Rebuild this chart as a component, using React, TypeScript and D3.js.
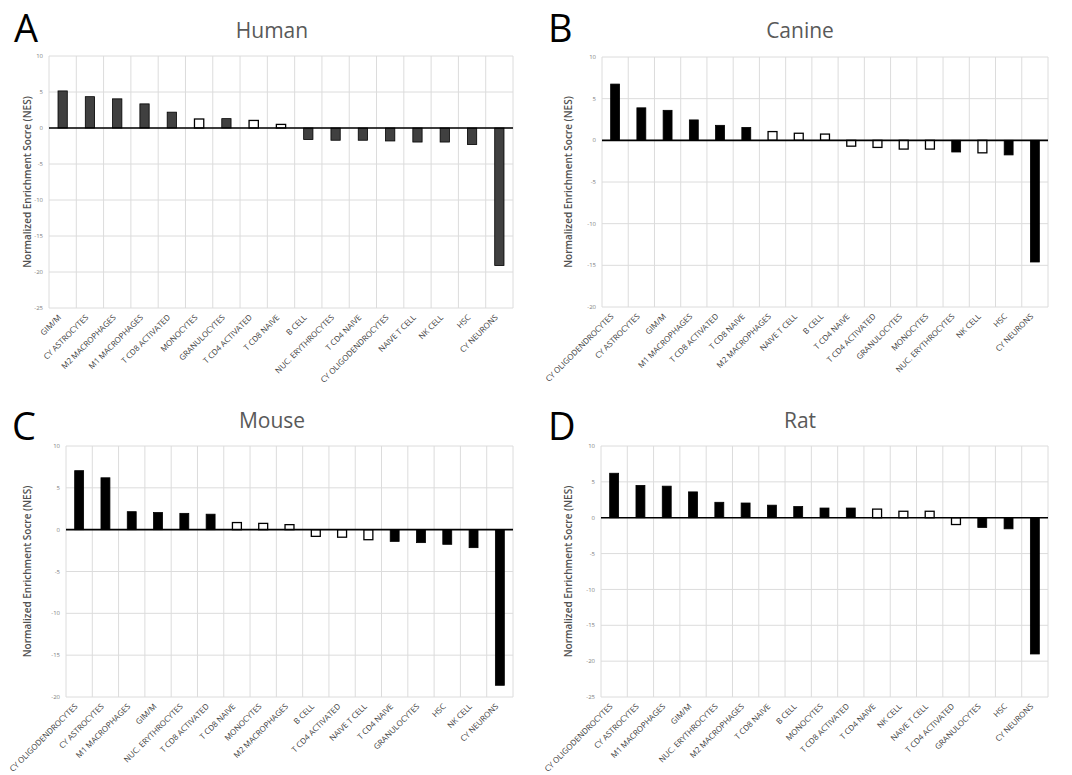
import { useEffect, useRef } from 'react'
import * as d3 from 'd3'

// Human
const humanCats = ['GIM/M', 'CY ASTROCYTES', 'M2 MACROPHAGES', 'M1 MACROPHAGES', 'T CD8 ACTIVATED', 'MONOCYTES', 'GRANULOCYTES', 'T CD4 ACTIVATED', 'T CD8 NAIVE', 'B CELL', 'NUC. ERYTHROCYTES', 'T CD4 NAIVE', 'CY OLIGODENDROCYTES', 'NAIVE T CELL', 'NK CELL', 'HSC', 'CY NEURONS']
const humanVals = [5.15, 4.35, 4.05, 3.35, 2.2, 1.25, 1.3, 1.05, 0.5, -1.6, -1.7, -1.7, -1.8, -1.95, -1.95, -2.3, -19.1]
const humanOpen = [0, 0, 0, 0, 0, 1, 0, 1, 1, 0, 0, 0, 0, 0, 0, 0, 0]

// Canine
const canineCats = ['CY OLIGODENDROCYTES', 'CY ASTROCYTES', 'GIM/M', 'M1 MACROPHAGES', 'T CD8 ACTIVATED', 'T CD8 NAIVE', 'M2 MACROPHAGES', 'NAIVE T CELL', 'B CELL', 'T CD4 NAIVE', 'T CD4 ACTIVATED', 'GRANULOCYTES', 'MONOCYTES', 'NUC. ERYTHROCYTES', 'NK CELL', 'HSC', 'CY NEURONS']
const canineVals = [6.75, 3.9, 3.6, 2.45, 1.8, 1.55, 1.05, 0.85, 0.75, -0.7, -0.85, -1.05, -1.05, -1.4, -1.5, -1.75, -14.6]
const canineOpen = [0, 0, 0, 0, 0, 0, 1, 1, 1, 1, 1, 1, 1, 0, 1, 0, 0]

// Mouse
const mouseCats = ['CY OLIGODENDROCYTES', 'CY ASTROCYTES', 'M1 MACROPHAGES', 'GIM/M', 'NUC. ERYTHROCYTES', 'T CD8 ACTIVATED', 'T CD8 NAIVE', 'MONOCYTES', 'M2 MACROPHAGES', 'B CELL', 'T CD4 ACTIVATED', 'NAIVE T CELL', 'T CD4 NAIVE', 'GRANULOCYTES', 'HSC', 'NK CELL', 'CY NEURONS']
const mouseVals = [7.05, 6.2, 2.15, 2.05, 1.95, 1.85, 0.85, 0.75, 0.6, -0.8, -0.9, -1.2, -1.4, -1.55, -1.75, -2.15, -18.6]
const mouseOpen = [0, 0, 0, 0, 0, 0, 1, 1, 1, 1, 1, 1, 0, 0, 0, 0, 0]

// Rat
const ratCats = ['CY OLIGODENDROCYTES', 'CY ASTROCYTES', 'M1 MACROPHAGES', 'GIM/M', 'NUC. ERYTHROCYTES', 'M2 MACROPHAGES', 'T CD8 NAIVE', 'B CELL', 'MONOCYTES', 'T CD8 ACTIVATED', 'T CD4 NAIVE', 'NK CELL', 'NAIVE T CELL', 'T CD4 ACTIVATED', 'GRANULOCYTES', 'HSC', 'CY NEURONS']
const ratVals = [6.2, 4.5, 4.4, 3.6, 2.15, 2.05, 1.75, 1.55, 1.35, 1.35, 1.2, 0.9, 0.9, -0.95, -1.35, -1.55, -19.0]
const ratOpen = [0, 0, 0, 0, 0, 0, 0, 0, 0, 0, 1, 1, 1, 1, 0, 0, 0]

const yTitle = 'Normalized Enrichment Socre (NES)'

const panels = [
  { letter: 'A', title: 'Human', cats: humanCats, vals: humanVals, open: humanOpen, yMin: -25, fill: '#404040',
    box: { left: 49, right: 513, top: 56, bottom: 308 }, letterX: 14, letterY: 42, titleX: 272, titleY: 38, yTitleX: 27 },
  { letter: 'B', title: 'Canine', cats: canineCats, vals: canineVals, open: canineOpen, yMin: -20, fill: '#000',
    box: { left: 602, right: 1048, top: 57, bottom: 307 }, letterX: 548, letterY: 42, titleX: 800, titleY: 38, yTitleX: 568 },
  { letter: 'C', title: 'Mouse', cats: mouseCats, vals: mouseVals, open: mouseOpen, yMin: -20, fill: '#000',
    box: { left: 66, right: 513, top: 446, bottom: 697 }, letterX: 12, letterY: 440, titleX: 272, titleY: 428, yTitleX: 27 },
  { letter: 'D', title: 'Rat', cats: ratCats, vals: ratVals, open: ratOpen, yMin: -25, fill: '#000',
    box: { left: 601, right: 1048, top: 446, bottom: 697 }, letterX: 548, letterY: 440, titleX: 800, titleY: 428, yTitleX: 568 },
]

export default function App() {
  const ref = useRef<SVGSVGElement>(null)

  useEffect(() => {
    const svg = d3.select(ref.current)
    svg.selectAll('*').remove()
    svg.append('rect').attr('width', 1072).attr('height', 775).attr('fill', '#fff')

    panels.forEach((p) => {
      const { left, right, top, bottom } = p.box
      const g = svg.append('g')

      const x = d3.scaleBand().domain(p.cats).range([left, right])
      const y = d3.scaleLinear().domain([p.yMin, 10]).range([bottom, top])
      const ticks = d3.range(p.yMin, 10.1, 5)

      // horizontal gridlines
      g.append('g')
        .selectAll('line')
        .data(ticks)
        .join('line')
        .attr('x1', left).attr('x2', right)
        .attr('y1', (d) => y(d)).attr('y2', (d) => y(d))
        .attr('stroke', '#dcdcdc').attr('stroke-width', 1)

      // vertical gridlines at band edges
      const edges = p.cats.map((c) => x(c) as number).concat([right])
      g.append('g')
        .selectAll('line')
        .data(edges)
        .join('line')
        .attr('x1', (d) => d).attr('x2', (d) => d)
        .attr('y1', top).attr('y2', bottom)
        .attr('stroke', '#dcdcdc').attr('stroke-width', 1)

      // y tick labels
      g.append('g')
        .selectAll('text')
        .data(ticks)
        .join('text')
        .attr('x', left - 6)
        .attr('y', (d) => y(d))
        .attr('dy', '0.35em')
        .attr('text-anchor', 'end')
        .attr('font-family', 'Open Sans, sans-serif')
        .attr('font-size', 6)
        .attr('fill', '#808080')
        .text((d) => d)

      // bars
      const bw = x.bandwidth() * 0.34
      const data = p.cats.map((c, i) => ({ c, v: p.vals[i], open: p.open[i] === 1 }))
      g.append('g')
        .selectAll('rect')
        .data(data)
        .join('rect')
        .attr('x', (d) => (x(d.c) as number) + x.bandwidth() / 2 - bw / 2)
        .attr('y', (d) => y(Math.max(0, d.v)))
        .attr('width', bw)
        .attr('height', (d) => Math.abs(y(d.v) - y(0)))
        .attr('fill', (d) => (d.open ? '#fff' : p.fill))
        .attr('stroke', '#000')
        .attr('stroke-width', (d) => (d.open ? 1.3 : 0.8))

      // zero line
      g.append('line')
        .attr('x1', left).attr('x2', right)
        .attr('y1', y(0)).attr('y2', y(0))
        .attr('stroke', '#000').attr('stroke-width', 1.6)

      // x labels
      g.append('g')
        .selectAll('text')
        .data(p.cats)
        .join('text')
        .attr('transform', (d) => `translate(${(x(d) as number) + x.bandwidth() / 2 - 1},${bottom + 10}) rotate(-45)`)
        .attr('text-anchor', 'end')
        .attr('font-family', 'Open Sans, sans-serif')
        .attr('font-size', 8)
        .attr('fill', '#404040')
        .text((d) => d)

      // y title
      g.append('text')
        .attr('transform', `translate(${p.yTitleX},${(top + bottom) / 2}) rotate(-90)`)
        .attr('text-anchor', 'middle')
        .attr('dy', '0.35em')
        .attr('font-family', 'Open Sans, sans-serif')
        .attr('font-weight', 600)
        .attr('font-size', 10)
        .attr('fill', '#505050')
        .text(yTitle)

      // chart title
      g.append('text')
        .attr('x', p.titleX).attr('y', p.titleY)
        .attr('text-anchor', 'middle')
        .attr('font-family', 'Open Sans, sans-serif')
        .attr('font-size', 21)
        .attr('fill', '#595959')
        .text(p.title)

      // panel letter
      g.append('text')
        .attr('x', p.letterX).attr('y', p.letterY)
        .attr('font-family', 'Open Sans, sans-serif')
        .attr('font-size', 38)
        .attr('fill', '#000')
        .text(p.letter)
    })
  }, [])

  return <svg ref={ref} width={1072} height={775} style={{ position: 'absolute', left: 0, top: 0 }} />
}
